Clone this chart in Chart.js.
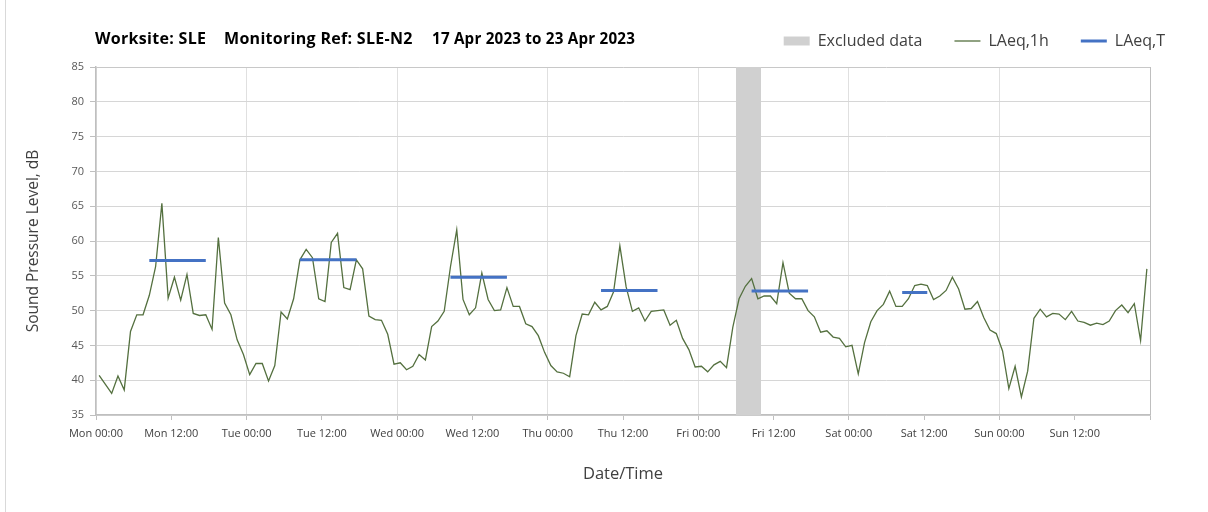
<!DOCTYPE html>
<html>
<head>
<meta charset="utf-8">
<script src="https://cdn.jsdelivr.net/npm/chart.js@4.4.1/dist/chart.umd.min.js"></script>
<style>
  html, body { margin: 0; padding: 0; background: #ffffff; }
  #wrap { position: relative; width: 1208px; height: 512px; overflow: hidden; }
  #frame { position: absolute; left: 5px; top: 0; width: 1px; height: 512px; background: #d9d9d9; }
  canvas { position: absolute; left: 0; top: 0; }
  .ttl { position: absolute; top: 27px; font-family: "Open Sans", sans-serif; font-weight: 700; font-size: 16px; letter-spacing: 0.3px; line-height: 22px; color: #000; white-space: nowrap; }
</style>
</head>
<body>
<div id="wrap">
  <canvas id="c" width="1208" height="512"></canvas>
  <div id="frame"></div>
  <div class="ttl" style="left:95px">Worksite: SLE</div>
  <div class="ttl" style="left:224px">Monitoring Ref: SLE-N2</div>
  <div class="ttl" style="left:432px; font-size:15.2px; letter-spacing:0.2px">17 Apr 2023 to 23 Apr 2023</div>
</div>
<script>
// ---- data (hours from Mon 00:00) ----
const tickLabels = ['Mon 00:00','Mon 12:00','Tue 00:00','Tue 12:00','Wed 00:00','Wed 12:00','Thu 00:00','Thu 12:00','Fri 00:00','Fri 12:00','Sat 00:00','Sat 12:00','Sun 00:00','Sun 12:00'];

// LAeq,1h hourly values, hour 0 .. 167
const laeq1h = [
  40.7, 39.4, 38.1, 40.6, 38.6, 47.0, 49.4, 49.4, 52.2, 56.3, 65.4, 51.8,
  54.8, 51.5, 55.2, 49.6, 49.3, 49.4, 47.3, 60.5, 51.1, 49.4, 45.8, 43.7,
  40.8, 42.4, 42.4, 39.9, 42.1, 49.8, 48.8, 51.7, 57.3, 58.8, 57.6, 51.7,
  51.3, 59.8, 61.1, 53.3, 53.0, 57.3, 56.0, 49.2, 48.7, 48.6, 46.6, 42.3,
  42.5, 41.5, 42.0, 43.7, 42.9, 47.7, 48.5, 49.9, 56.3, 61.6, 51.6, 49.4,
  50.4, 55.4, 51.6, 50.0, 50.1, 53.3, 50.6, 50.6, 48.1, 47.7, 46.4, 44.0,
  42.1, 41.2, 41.0, 40.5, 46.4, 49.5, 49.4, 51.2, 50.1, 50.6, 52.7, 59.3,
  53.4, 49.9, 50.4, 48.5, 49.9, 50.0, 50.1, 47.9, 48.6, 46.0, 44.4, 41.9,
  42.0, 41.2, 42.2, 42.7, 41.8, 47.6, 51.7, 53.5, 54.6, 51.7, 52.1, 52.1,
  51.0, 56.9, 52.5, 51.7, 51.7, 50.0, 49.1, 46.9, 47.1, 46.2, 46.0, 44.8,
  45.0, 40.9, 45.4, 48.4, 50.0, 50.9, 52.8, 50.6, 50.6, 51.7, 53.6, 53.8,
  53.6, 51.6, 52.1, 52.9, 54.8, 53.1, 50.2, 50.3, 51.3, 49.0, 47.2, 46.7,
  44.2, 38.8, 42.0, 37.6, 41.3, 48.9, 50.2, 49.1, 49.6, 49.5, 48.7, 49.9,
  48.5, 48.3, 47.9, 48.2, 48.0, 48.5, 50.0, 50.8, 49.7, 51.0, 45.7, 56.0
];

// LAeq,T daytime periods (start hour inclusive, end hour exclusive)
const periodStart = [8, 32, 56, 80, 104, 128];
const periodEnd   = [18, 42, 66, 90, 114, 133];
const laeqT       = [57.2, 57.3, 54.8, 52.9, 52.8, 52.6];

// Excluded data window (hours)
const excludedStart = 102;
const excludedEnd   = 106;

const yMin = 35, yMax = 85;

// ---- build datasets ----
const hourlyPoints = laeq1h.map((v, i) => ({ x: i + 0.5, y: v }));
const periodPoints = [];
laeqT.forEach((v, k) => {
  periodPoints.push({ x: periodStart[k] + 0.5, y: v });
  periodPoints.push({ x: periodEnd[k] - 0.5, y: v });
  periodPoints.push({ x: periodEnd[k], y: null });
});
const excludedPoints = [{ x: excludedStart, y: yMax }, { x: excludedEnd, y: yMax }];

const FONT = '"Open Sans", sans-serif';

const legendFix = {
  id: 'legendFix',
  afterInit(chart) {
    const lg = chart.legend;
    if (!lg) return;
    const orig = lg.fit.bind(lg);
    lg.fit = function () { orig(); this.height = 66; };
  }
};

new Chart(document.getElementById('c'), {
  type: 'line',
  data: {
    datasets: [
      {
        label: 'Excluded data',
        data: excludedPoints,
        backgroundColor: '#d0d0d0',
        borderColor: 'rgba(0,0,0,0)',
        borderWidth: 0,
        pointRadius: 0,
        fill: 'start',
        order: 3,
        legendStyle: 'rect'
      },
      {
        label: 'LAeq,1h',
        data: hourlyPoints,
        borderColor: '#54703f',
        borderWidth: 1.3,
        pointRadius: 0,
        tension: 0,
        fill: false,
        order: 2,
        legendStyle: 'line'
      },
      {
        label: 'LAeq,T',
        data: periodPoints,
        borderColor: '#4472c4',
        borderWidth: 3,
        pointRadius: 0,
        spanGaps: false,
        fill: false,
        order: 1,
        legendStyle: 'line'
      }
    ]
  },
  options: {
    responsive: false,
    animation: false,
    events: [],
    layout: { padding: { top: 1, right: 11, bottom: 24, left: 22 } },
    plugins: {
      tooltip: { enabled: false },
      title: { display: false },
      legend: {
        display: true,
        position: 'top',
        align: 'end',
        labels: {
          usePointStyle: true,
          pointStyleWidth: 26,
          boxHeight: 9,
          padding: 32,
          color: '#404040',
          font: { family: FONT, size: 16 },
          generateLabels(chart) {
            return chart.data.datasets.map((ds, i) => ({
              text: ds.label,
              datasetIndex: i,
              hidden: false,
              fontColor: '#404040',
              pointStyle: ds.legendStyle,
              fillStyle: ds.legendStyle === 'rect' ? ds.backgroundColor : 'rgba(0,0,0,0)',
              strokeStyle: ds.legendStyle === 'rect' ? 'rgba(0,0,0,0)' : ds.borderColor,
              lineWidth: ds.legendStyle === 'rect' ? 0 : ds.borderWidth
            }));
          }
        }
      }
    },
    scales: {
      x: {
        type: 'linear',
        min: 0,
        max: 168,
        afterFit(scale) { scale.height = 73; },
        ticks: {
          stepSize: 12,
          autoSkip: false,
          maxRotation: 0,
          padding: 7,
          color: '#404040',
          font: { family: FONT, size: 11 },
          callback: (v) => (tickLabels[v / 12] !== undefined ? tickLabels[v / 12] : '')
        },
        grid: {
          drawTicks: true,
          tickLength: 5,
          tickColor: '#bfbfbf',
          color: (ctx) => {
            if (!ctx.tick) return 'rgba(0,0,0,0)';
            if (ctx.tick.value === 168) return '#bfbfbf';
            return ctx.tick.value % 24 === 0 ? '#e0e0e0' : 'rgba(0,0,0,0)';
          }
        },
        border: { display: true, color: '#bfbfbf', width: 1.5 },
        title: {
          display: true,
          text: 'Date/Time',
          color: '#404040',
          font: { family: FONT, size: 16.5 },
          padding: { top: 4, bottom: 4 }
        }
      },
      y: {
        min: yMin,
        max: yMax,
        afterFit(scale) { scale.width = 74; },
        ticks: {
          stepSize: 5,
          padding: 6,
          color: '#595959',
          font: { family: FONT, size: 11 }
        },
        grid: {
          drawTicks: true,
          tickLength: 6,
          tickColor: '#bfbfbf',
          color: (ctx) => (ctx.tick && ctx.tick.value === yMax ? '#c8c8c8' : '#d6d6d6')
        },
        border: { display: true, color: '#bfbfbf', width: 1.5 },
        title: {
          display: true,
          text: 'Sound Pressure Level, dB',
          color: '#404040',
          font: { family: FONT, size: 15.5 },
          padding: { top: 2, bottom: 4 }
        }
      },
      yR: {
        position: 'right',
        min: yMin,
        max: yMax,
        afterFit(scale) { scale.width = 47; },
        ticks: { display: false },
        grid: { display: false, drawTicks: false },
        border: { display: false }
      }
    }
  },
  plugins: [legendFix]
});
</script>
</body>
</html>
